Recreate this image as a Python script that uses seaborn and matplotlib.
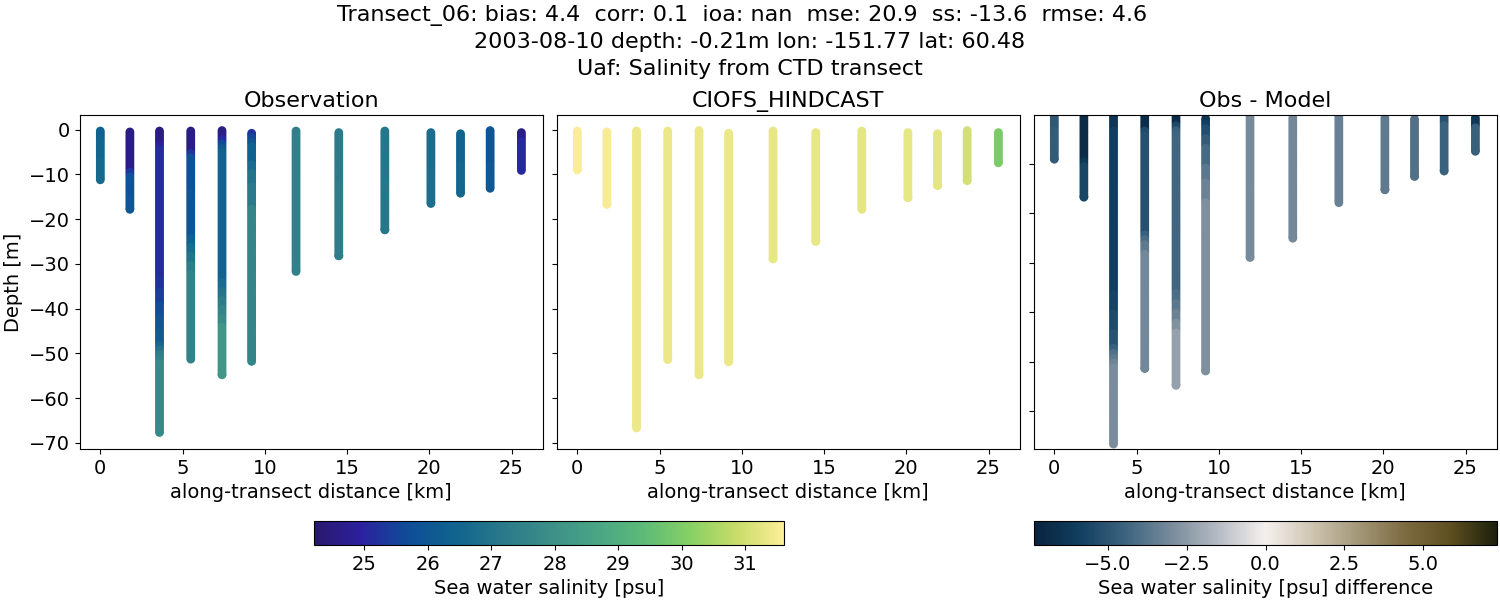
import numpy as np
import pandas as pd
import matplotlib
matplotlib.use("Agg")
import matplotlib.pyplot as plt
from matplotlib.colors import LinearSegmentedColormap, Normalize
from matplotlib.cm import ScalarMappable
import seaborn as sns

sns.set_theme(style="ticks", rc={"axes.linewidth": 1.0})
plt.rcParams["font.family"] = ["DejaVu Sans"]

distance_km = [0, 1.8, 3.6, 5.5, 7.4, 9.2, 11.9, 14.5, 17.3, 20.1, 21.9, 23.7, 25.6]
first_depth = [0.3, 0.5, 0.3, 0.3, 0.2, 0.8, 0.3, 0.65, 0.3, 0.65, 0.9, 0.2, 0.65]
obs_last_depth = [11.2, 17.8, 67.7, 51.3, 54.8, 51.8, 31.7, 28.2, 22.4, 16.5, 14.2, 13.1, 9.1]
model_last_depth = [9.0, 16.7, 66.7, 51.4, 54.8, 51.9, 28.9, 25.0, 17.8, 15.2, 12.5, 11.4, 7.4]

# readings every half metre, downward from first_depth
obs_salinity = [
    [26.3]*4 + [26.5]*10 + [26.6]*10,
    [24.6]*18 + [25.3]*2 + [25.8]*2 + [25.9]*8 + [26.0]*8,
    [24.5]*6 + [24.9]*2 + [25.15]*58 + [25.25]*6 + [25.4]*6 + [25.7]*6 + [26.0]*6 + [26.2]*6 + [26.6]*2 + [27.0]*2 + [27.3]*2 + [27.5]*2 + [27.7]*34,
    [24.6]*10 + [25.3]*2 + [25.8]*16 + [25.95]*20 + [26.3]*4 + [26.7]*4 + [27.0]*4 + [27.3]*4 + [27.5]*40,
    [24.6]*4 + [25.1]*2 + [25.7]*2 + [26.1]*2 + [26.4]*56 + [26.5]*2 + [26.7]*4 + [27.0]*4 + [27.3]*4 + [27.6]*4 + [27.8]*4 + [28.2]*24,
    [25.2]*2 + [25.6]*2 + [26.0]*2 + [26.4]*8 + [26.7]*4 + [27.0]*6 + [27.2]*10 + [27.6]*70,
    [27.4]*40 + [27.45]*26,
    [27.25]*24 + [27.35]*34,
    [27.05]*24 + [27.1]*24,
    [26.75]*18 + [26.8]*16,
    [26.45]*14 + [26.55]*16,
    [25.95]*16 + [26.05]*12,
    [24.6]*4 + [25.05]*16,
]
model_salinity = [
    [31.58]*20,
    [31.52]*36,
    [31.35]*136,
    [31.35]*106,
    [31.35]*112,
    [31.35]*106,
    [31.32]*60,
    [31.32]*52,
    [31.25]*38,
    [31.32]*32,
    [31.25]*26,
    [31.02]*26,
    [29.95]*16,
]
difference = [
    [-4.9]*6 + [-4.7]*14,
    [-6.9]*18 + [-6.2]*2 + [-5.6]*16,
    [-6.4]*6 + [-5.9]*66 + [-5.7]*8 + [-5.4]*8 + [-5.1]*6 + [-4.6]*2 + [-4.0]*2 + [-3.6]*2 + [-3.2]*2 + [-2.9]*34,
    [-6.8]*6 + [-5.4]*2 + [-5.2]*40 + [-4.6]*2 + [-4.1]*2 + [-3.6]*4 + [-3.1]*50,
    [-6.8]*4 + [-5.5]*2 + [-4.6]*2 + [-4.4]*64 + [-4.1]*4 + [-3.7]*4 + [-3.3]*4 + [-2.8]*4 + [-2.3]*24,
    [-6.3]*2 + [-5.8]*2 + [-5.3]*4 + [-4.7]*4 + [-4.2]*8 + [-3.7]*6 + [-3.3]*8 + [-2.85]*72,
    [-2.95]*60,
    [-3.05]*52,
    [-3.35]*38,
    [-3.6]*32,
    [-3.95]*26,
    [-5.1]*4 + [-4.5]*22,
    [-6.2]*4 + [-4.6]*12,
]

salinity_range = (24.21, 31.61)
difference_range = (-7.33, 7.33)
haline_colors = ["#2a186c", "#2b219f", "#0f4d97", "#10648e", "#29798a", "#3c8e88", "#49a585",
                 "#5cba78", "#86d064", "#c8dc68", "#fdee99"]
diff_colors = ["#08233e", "#123f60", "#3f6580", "#7a8c9c", "#b8bdc4", "#f5f0ee",
               "#cfc5b2", "#a39878", "#7d6c42", "#5e4f20", "#1c210c"]
haline = LinearSegmentedColormap.from_list("haline_like", haline_colors)
diff_map = LinearSegmentedColormap.from_list("diff_like", diff_colors)


def table(values, last_depth):
    rows = []
    for x, top, bottom, vals in zip(distance_km, first_depth, last_depth, values):
        for i, v in enumerate(vals):
            d = top + 0.5 * i
            if d >= bottom:
                rows.append((x, -bottom, v))
                break
            rows.append((x, -d, v))
    return pd.DataFrame(rows, columns=["x", "depth", "value"])


W, H = 1500, 600


def place(left, top, right, bottom):
    return fig.add_axes([left / W, 1 - bottom / H, (right - left) / W, (bottom - top) / H])


fig = plt.figure(figsize=(15, 6), dpi=100, facecolor="white")
ax1 = place(79.6, 115, 542.6, 449)
ax2 = place(556.6, 115, 1019.6, 449)
ax3 = place(1033.6, 115, 1496.6, 449)
norm_s = Normalize(*salinity_range)
norm_d = Normalize(*difference_range)

panels = [
    (ax1, table(obs_salinity, obs_last_depth), haline, norm_s, "Observation", (-71.4, 3.29)),
    (ax2, table(model_salinity, model_last_depth), haline, norm_s, "CIOFS_HINDCAST", (-71.4, 3.29)),
    (ax3, table(difference, model_last_depth), diff_map, norm_d, "Obs - Model", (-67.7, -0.05)),
]
for ax, df, cmap, norm, title, ylim in panels:
    sns.scatterplot(data=df, x="x", y="depth", hue="value", palette=cmap, hue_norm=norm,
                    s=40, linewidth=0, legend=False, ax=ax)
    ax.set_xlim(-1.258, 26.89)
    ax.set_ylim(*ylim)
    ax.set_xticks([0, 5, 10, 15, 20, 25])
    ax.set_yticks([-60, -50, -40, -30, -20, -10] if ax is ax3 else [-70, -60, -50, -40, -30, -20, -10, 0])
    ax.set_xlabel("along-transect distance [km]", fontsize=14, color="black", labelpad=4)
    ax.set_ylabel("")
    ax.set_title(title, fontsize=16, color="black", pad=6)
    ax.tick_params(labelsize=14, length=3.5, width=0.8, colors="black", bottom=True, left=True)
    for side in ax.spines.values():
        side.set_visible(True)
        side.set_color("black")
        side.set_linewidth(0.8)
ax1.set_ylabel("Depth [m]", fontsize=14, color="black", labelpad=4)
ax2.tick_params(labelleft=False)
ax3.tick_params(labelleft=False)

cax1 = place(314, 521, 784, 545)
cax2 = place(1034, 521, 1497, 545)
cb1 = fig.colorbar(ScalarMappable(norm=norm_s, cmap=haline), cax=cax1, orientation="horizontal")
cb2 = fig.colorbar(ScalarMappable(norm=norm_d, cmap=diff_map), cax=cax2, orientation="horizontal")
cb1.set_ticks([25, 26, 27, 28, 29, 30, 31])
cb2.set_ticks([-5, -2.5, 0, 2.5, 5])
cb1.set_label("Sea water salinity [psu]", fontsize=14, color="black", labelpad=4)
cb2.set_label("Sea water salinity [psu] difference", fontsize=14, color="black", labelpad=4)
for cb in (cb1, cb2):
    cb.ax.tick_params(labelsize=14, length=3.5, width=0.8, colors="black", bottom=True)
    cb.outline.set_linewidth(0.8)
    cb.outline.set_edgecolor("black")

title_lines = ["Transect_06: bias: 4.4  corr: 0.1  ioa: nan  mse: 20.9  ss: -13.6  rmse: 4.6",
               "2003-08-10 depth: -0.21m lon: -151.77 lat: 60.48",
               "Uaf: Salinity from CTD transect"]
for line, cx, cy in zip(title_lines, [742.5, 750, 750], [16, 41.5, 69]):
    fig.text(cx / W, 1 - cy / H, line, fontsize=16, color="black", ha="center", va="center")
fig.savefig("out.png", dpi=100, facecolor="white")
